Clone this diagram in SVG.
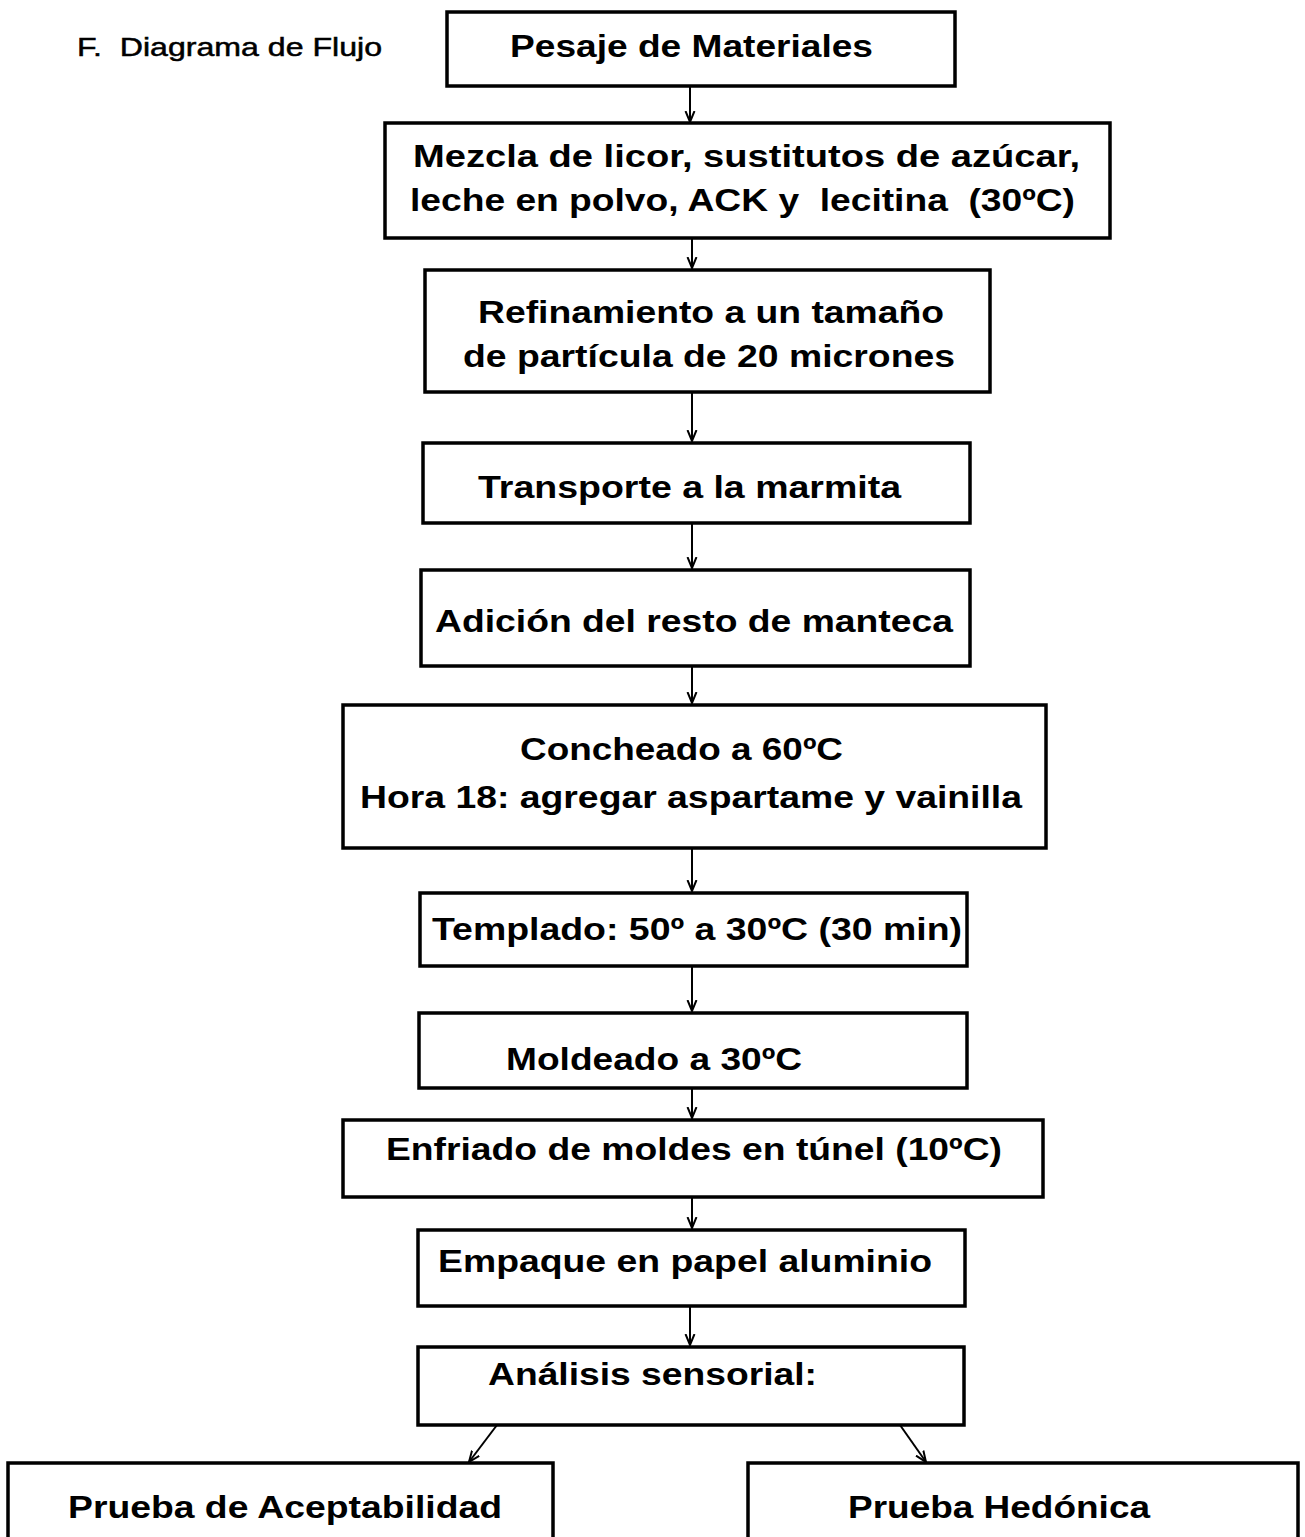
<svg xmlns="http://www.w3.org/2000/svg" width="1305" height="1537" viewBox="0 0 1305 1537">
<defs>
<style>
.box{fill:#fff;stroke:#000;stroke-width:3.5}
.t{font-family:"Liberation Sans",Arial,sans-serif;font-weight:bold;font-size:32px;fill:#000;white-space:pre}
.title{font-family:"Liberation Sans",Arial,sans-serif;font-size:26px;fill:#000;stroke:#000;stroke-width:0.5;white-space:pre}
.c{stroke:#000;stroke-width:2;fill:none}
</style>
<marker id="ah" viewBox="0 0 12 12" refX="11" refY="6" markerWidth="12" markerHeight="12" markerUnits="userSpaceOnUse" orient="auto">
<path d="M0,1.5 L11,6 L0,10.5" fill="none" stroke="#000" stroke-width="2"/>
</marker>
</defs>
<rect width="1305" height="1537" fill="#fff"/>
<text class="title" x="77" y="56" textLength="305" lengthAdjust="spacingAndGlyphs" xml:space="preserve">F.  Diagrama de Flujo</text>
<g id="connectors">
<line class="c" x1="690" y1="86" x2="690" y2="122" marker-end="url(#ah)"/>
<line class="c" x1="692" y1="238" x2="692" y2="268" marker-end="url(#ah)"/>
<line class="c" x1="692" y1="392" x2="692" y2="441" marker-end="url(#ah)"/>
<line class="c" x1="692" y1="523" x2="692" y2="568" marker-end="url(#ah)"/>
<line class="c" x1="692" y1="666" x2="692" y2="703" marker-end="url(#ah)"/>
<line class="c" x1="692" y1="848" x2="692" y2="891" marker-end="url(#ah)"/>
<line class="c" x1="692" y1="966" x2="692" y2="1011" marker-end="url(#ah)"/>
<line class="c" x1="692" y1="1088" x2="692" y2="1118" marker-end="url(#ah)"/>
<line class="c" x1="692" y1="1197" x2="692" y2="1228" marker-end="url(#ah)"/>
<line class="c" x1="690" y1="1306" x2="690" y2="1345" marker-end="url(#ah)"/>
<line class="c" x1="497" y1="1425" x2="469" y2="1462" marker-end="url(#ah)"/>
<line class="c" x1="900" y1="1425" x2="926" y2="1462" marker-end="url(#ah)"/>
</g>
<g id="n1"><rect class="box" x="447" y="12" width="508" height="74"/><text class="t" x="510" y="57" textLength="363" lengthAdjust="spacingAndGlyphs">Pesaje de Materiales</text></g>
<g id="n2"><rect class="box" x="385" y="123" width="725" height="115"/><text class="t" x="413" y="167" textLength="667" lengthAdjust="spacingAndGlyphs">Mezcla de licor, sustitutos de azúcar,</text><text class="t" x="410" y="211" textLength="665" lengthAdjust="spacingAndGlyphs" xml:space="preserve">leche en polvo, ACK y  lecitina  (30ºC)</text></g>
<g id="n3"><rect class="box" x="425" y="270" width="565" height="122"/><text class="t" x="478" y="323" textLength="466" lengthAdjust="spacingAndGlyphs">Refinamiento a un tamaño</text><text class="t" x="463" y="367" textLength="492" lengthAdjust="spacingAndGlyphs">de partícula de 20 micrones</text></g>
<g id="n4"><rect class="box" x="423" y="443" width="547" height="80"/><text class="t" x="478" y="498" textLength="423" lengthAdjust="spacingAndGlyphs">Transporte a la marmita</text></g>
<g id="n5"><rect class="box" x="421" y="570" width="549" height="96"/><text class="t" x="435" y="632" textLength="518" lengthAdjust="spacingAndGlyphs">Adición del resto de manteca</text></g>
<g id="n6"><rect class="box" x="343" y="705" width="703" height="143"/><text class="t" x="520" y="760" textLength="323" lengthAdjust="spacingAndGlyphs">Concheado a 60ºC</text><text class="t" x="360" y="808" textLength="662" lengthAdjust="spacingAndGlyphs">Hora 18: agregar aspartame y vainilla</text></g>
<g id="n7"><rect class="box" x="420" y="893" width="547" height="73"/><text class="t" x="432" y="940" textLength="530" lengthAdjust="spacingAndGlyphs">Templado: 50º a 30ºC (30 min)</text></g>
<g id="n8"><rect class="box" x="419" y="1013" width="548" height="75"/><text class="t" x="506" y="1070" textLength="296" lengthAdjust="spacingAndGlyphs">Moldeado a 30ºC</text></g>
<g id="n9"><rect class="box" x="343" y="1120" width="700" height="77"/><text class="t" x="386" y="1160" textLength="616" lengthAdjust="spacingAndGlyphs">Enfriado de moldes en túnel (10ºC)</text></g>
<g id="n10"><rect class="box" x="418" y="1230" width="547" height="76"/><text class="t" x="438" y="1272" textLength="494" lengthAdjust="spacingAndGlyphs">Empaque en papel aluminio</text></g>
<g id="n11"><rect class="box" x="418" y="1347" width="546" height="78"/><text class="t" x="488" y="1385" textLength="329" lengthAdjust="spacingAndGlyphs">Análisis sensorial:</text></g>
<g id="n12"><rect class="box" x="8" y="1463" width="545" height="100"/><text class="t" x="68" y="1518" textLength="434" lengthAdjust="spacingAndGlyphs">Prueba de Aceptabilidad</text></g>
<g id="n13"><rect class="box" x="748" y="1463" width="550" height="100"/><text class="t" x="848" y="1518" textLength="302" lengthAdjust="spacingAndGlyphs">Prueba Hedónica</text></g>
</svg>
